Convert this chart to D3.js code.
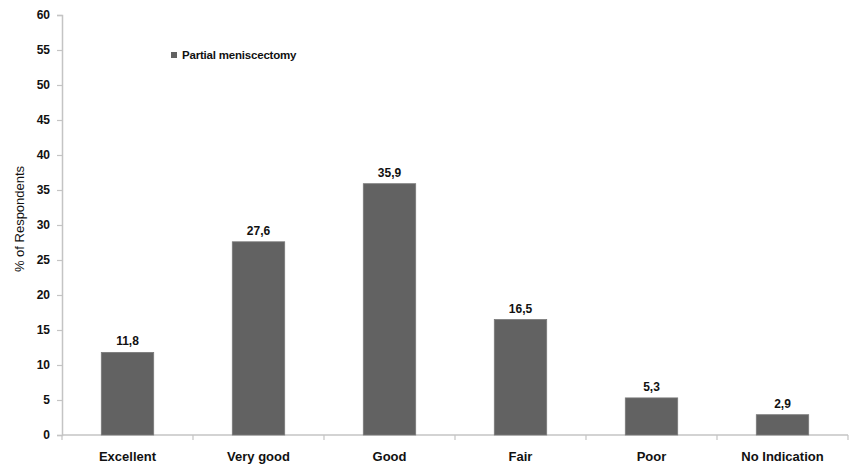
<!DOCTYPE html>
<html>
<head>
<meta charset="utf-8">
<script src="https://cdn.jsdelivr.net/npm/d3@7"></script>
<style>
  html, body { margin: 0; padding: 0; background: #fff; }
  svg { display: block; }
</style>
</head>
<body>
<svg id="chart" width="849" height="465"></svg>
<script>
// Self-rated outcome after partial meniscectomy
const categories = ["Excellent", "Very good", "Good", "Fair", "Poor", "No Indication"];
const values = [11.8, 27.6, 35.9, 16.5, 5.3, 2.9];
const yTicks = [0, 5, 10, 15, 20, 25, 30, 35, 40, 45, 50, 55, 60];
const seriesName = "Partial meniscectomy";
const yTitle = "% of Respondents";

const svg = d3.select("#chart");
const plotLeft = 62, plotRight = 848, plotTop = 15, plotBottom = 435;

const x = d3.scaleBand().domain(categories).range([plotLeft, plotRight]).paddingInner(0.6).paddingOuter(0.3);
const y = d3.scaleLinear().domain([0, 60]).range([plotBottom, plotTop]);

const axisColor = "#c4c4c4";
const barColor = "#626262";
const fontFam = "'Liberation Sans', Arial, sans-serif";

// Y axis
const yAxis = svg.append("g").attr("transform", `translate(${plotLeft},0)`)
  .call(d3.axisLeft(y).tickValues(yTicks).tickSize(5).tickPadding(7));
yAxis.select(".domain").attr("stroke", axisColor).attr("stroke-width", 1.5);
yAxis.selectAll(".tick line").attr("stroke", axisColor).attr("stroke-width", 1.2);
yAxis.selectAll(".tick text")
  .attr("fill", "#111").attr("font-family", fontFam).attr("font-weight", "bold").attr("font-size", 12);

// X axis with boundary ticks between categories
const xAxisG = svg.append("g").attr("transform", `translate(0,${plotBottom})`);
xAxisG.append("line").attr("x1", plotLeft).attr("x2", plotRight).attr("y1", 0).attr("y2", 0)
  .attr("stroke", axisColor).attr("stroke-width", 1.5);
const bounds = d3.range(categories.length + 1).map(i => plotLeft + i * (plotRight - plotLeft) / categories.length);
xAxisG.selectAll("line.b").data(bounds).join("line").attr("class", "b")
  .attr("x1", d => d).attr("x2", d => d).attr("y1", 0).attr("y2", 5)
  .attr("stroke", axisColor).attr("stroke-width", 1.2);
xAxisG.selectAll("text.c").data(categories).join("text").attr("class", "c")
  .attr("x", d => x(d) + x.bandwidth() / 2).attr("y", 26)
  .attr("text-anchor", "middle").attr("fill", "#111")
  .attr("font-family", fontFam).attr("font-weight", "bold").attr("font-size", 13)
  .text(d => d);

// Bars
svg.selectAll("rect.bar").data(categories).join("rect").attr("class", "bar")
  .attr("x", d => x(d)).attr("width", x.bandwidth())
  .attr("y", (d, i) => y(values[i])).attr("height", (d, i) => plotBottom - y(values[i]))
  .attr("fill", barColor).attr("stroke", "#7a7a7a").attr("stroke-width", 0.8);

// Value labels
svg.selectAll("text.v").data(categories).join("text").attr("class", "v")
  .attr("x", d => x(d) + x.bandwidth() / 2).attr("y", (d, i) => y(values[i]) - 7)
  .attr("text-anchor", "middle").attr("fill", "#111")
  .attr("font-family", fontFam).attr("font-weight", "bold").attr("font-size", 12)
  .text((d, i) => String(values[i]).replace(".", ","));

// Y title
svg.append("text").attr("transform", "translate(24,219) rotate(-90)")
  .attr("text-anchor", "middle").attr("fill", "#111")
  .attr("font-family", fontFam).attr("font-size", 13)
  .text(yTitle);

// Legend
const lg = svg.append("g").attr("transform", "translate(171,52)");
lg.append("rect").attr("x", 0).attr("y", 0).attr("width", 6).attr("height", 6).attr("fill", barColor);
lg.append("text").attr("x", 11).attr("y", 7).attr("fill", "#111")
  .attr("font-family", fontFam).attr("font-weight", "bold").attr("font-size", 11.5)
  .attr("letter-spacing", -0.2)
  .text(seriesName);
</script>
</body>
</html>
